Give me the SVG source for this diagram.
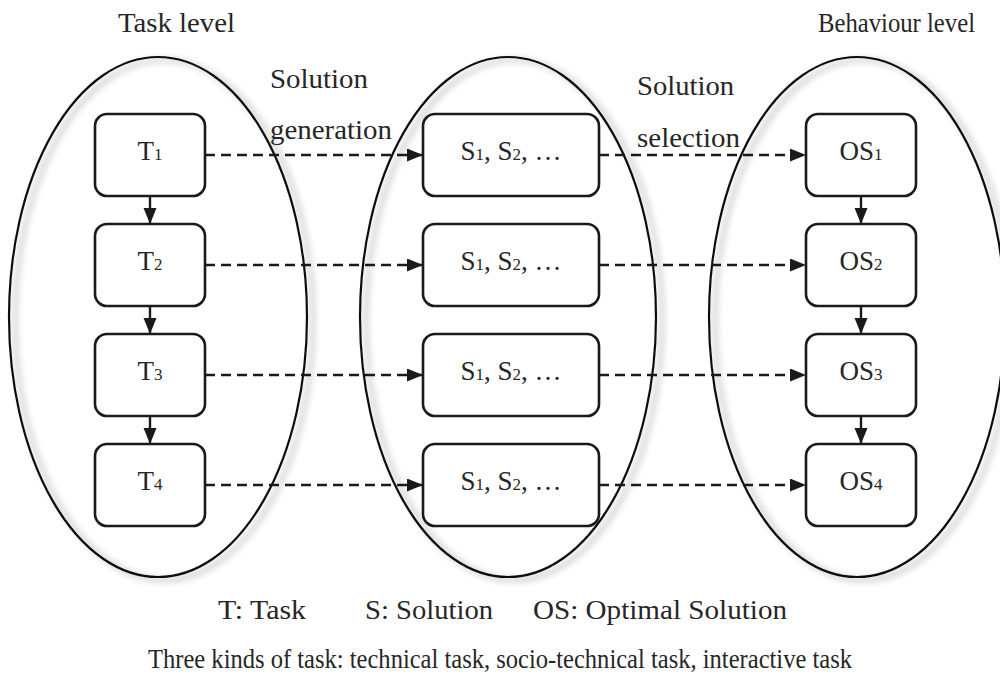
<svg xmlns="http://www.w3.org/2000/svg" width="1000" height="677" viewBox="0 0 1000 677" font-family="'Liberation Serif', 'Times New Roman', serif">
<style>
text{font-family:"Liberation Serif","Times New Roman","DejaVu Serif","Noto Serif",serif;fill:#262626}
.lbl{font-size:28px}
.bt{font-size:27px;text-anchor:middle}
.sub{font-size:17px}
.ell{fill:none;stroke:#111;stroke-width:2.2}
.box{fill:#fff;stroke:#1a1a1a;stroke-width:2.6}
.dash{fill:none;stroke:#1a1a1a;stroke-width:2.6;stroke-dasharray:10 6}
.solid{fill:none;stroke:#1a1a1a;stroke-width:2.4}
</style>
<defs>
<filter id="sh" x="-10%" y="-10%" width="130%" height="130%">
<feGaussianBlur in="SourceAlpha" stdDeviation="3.5"/>
<feOffset dx="6" dy="3"/>
<feComponentTransfer><feFuncA type="linear" slope="0.4"/></feComponentTransfer>
<feMerge><feMergeNode/><feMergeNode in="SourceGraphic"/></feMerge>
</filter>
<marker id="ah" markerUnits="userSpaceOnUse" markerWidth="17" markerHeight="14" refX="16" refY="6.5" orient="auto">
<path d="M0,0 L16,6.5 L0,13 z" fill="#1a1a1a"/>
</marker>
</defs>
<g id="levels">
<ellipse id="task-level" class="ell" filter="url(#sh)" cx="158" cy="317" rx="149" ry="260"/>
<ellipse id="solution-level" class="ell" filter="url(#sh)" cx="508" cy="317" rx="148" ry="260"/>
<ellipse id="behaviour-level" class="ell" filter="url(#sh)" cx="857" cy="317" rx="148" ry="260"/>
</g>
<g id="titles">
<text class="lbl" x="118" y="32" textLength="117" lengthAdjust="spacingAndGlyphs">Task level</text>
<text class="lbl" x="818" y="32" textLength="157" lengthAdjust="spacingAndGlyphs">Behaviour level</text>
<text class="lbl" x="270" y="88" textLength="98" lengthAdjust="spacingAndGlyphs">Solution</text>
<text class="lbl" x="270" y="139" textLength="122" lengthAdjust="spacingAndGlyphs">generation</text>
<text class="lbl" x="637" y="95" textLength="97" lengthAdjust="spacingAndGlyphs">Solution</text>
<text class="lbl" x="637" y="147" textLength="103" lengthAdjust="spacingAndGlyphs">selection</text>
</g>
<g id="connectors">
<line class="solid" x1="150" y1="196" x2="150" y2="224" marker-end="url(#ah)"/>
<line class="solid" x1="150" y1="306" x2="150" y2="334" marker-end="url(#ah)"/>
<line class="solid" x1="150" y1="416" x2="150" y2="444" marker-end="url(#ah)"/>
<line class="solid" x1="861" y1="196" x2="861" y2="224" marker-end="url(#ah)"/>
<line class="solid" x1="861" y1="306" x2="861" y2="334" marker-end="url(#ah)"/>
<line class="solid" x1="861" y1="416" x2="861" y2="444" marker-end="url(#ah)"/>
<line class="dash" x1="205" y1="155" x2="423" y2="155" marker-end="url(#ah)"/>
<line class="dash" x1="205" y1="265" x2="423" y2="265" marker-end="url(#ah)"/>
<line class="dash" x1="205" y1="375" x2="423" y2="375" marker-end="url(#ah)"/>
<line class="dash" x1="205" y1="485" x2="423" y2="485" marker-end="url(#ah)"/>
<line class="dash" x1="599" y1="155" x2="806" y2="155" marker-end="url(#ah)"/>
<line class="dash" x1="599" y1="265" x2="806" y2="265" marker-end="url(#ah)"/>
<line class="dash" x1="599" y1="375" x2="806" y2="375" marker-end="url(#ah)"/>
<line class="dash" x1="599" y1="485" x2="806" y2="485" marker-end="url(#ah)"/>
</g>
<g id="T1"><rect class="box" x="95" y="114" width="110" height="82" rx="12"/><text class="bt" x="150" y="160">T<tspan class="sub">1</tspan></text></g>
<g id="T2"><rect class="box" x="95" y="224" width="110" height="82" rx="12"/><text class="bt" x="150" y="270">T<tspan class="sub">2</tspan></text></g>
<g id="T3"><rect class="box" x="95" y="334" width="110" height="82" rx="12"/><text class="bt" x="150" y="380">T<tspan class="sub">3</tspan></text></g>
<g id="T4"><rect class="box" x="95" y="444" width="110" height="82" rx="12"/><text class="bt" x="150" y="490">T<tspan class="sub">4</tspan></text></g>
<g id="S1"><rect class="box" x="423" y="114" width="176" height="82" rx="12"/><text class="bt" x="511" y="160">S<tspan class="sub">1</tspan>, S<tspan class="sub">2</tspan>, …</text></g>
<g id="S2"><rect class="box" x="423" y="224" width="176" height="82" rx="12"/><text class="bt" x="511" y="270">S<tspan class="sub">1</tspan>, S<tspan class="sub">2</tspan>, …</text></g>
<g id="S3"><rect class="box" x="423" y="334" width="176" height="82" rx="12"/><text class="bt" x="511" y="380">S<tspan class="sub">1</tspan>, S<tspan class="sub">2</tspan>, …</text></g>
<g id="S4"><rect class="box" x="423" y="444" width="176" height="82" rx="12"/><text class="bt" x="511" y="490">S<tspan class="sub">1</tspan>, S<tspan class="sub">2</tspan>, …</text></g>
<g id="OS1"><rect class="box" x="806" y="114" width="110" height="82" rx="12"/><text class="bt" x="861" y="160">OS<tspan class="sub">1</tspan></text></g>
<g id="OS2"><rect class="box" x="806" y="224" width="110" height="82" rx="12"/><text class="bt" x="861" y="270">OS<tspan class="sub">2</tspan></text></g>
<g id="OS3"><rect class="box" x="806" y="334" width="110" height="82" rx="12"/><text class="bt" x="861" y="380">OS<tspan class="sub">3</tspan></text></g>
<g id="OS4"><rect class="box" x="806" y="444" width="110" height="82" rx="12"/><text class="bt" x="861" y="490">OS<tspan class="sub">4</tspan></text></g>
<g id="legend">
<text class="lbl" x="218" y="619" textLength="88" lengthAdjust="spacingAndGlyphs">T: Task</text>
<text class="lbl" x="365" y="619" textLength="128" lengthAdjust="spacingAndGlyphs">S: Solution</text>
<text class="lbl" x="533" y="619" textLength="254" lengthAdjust="spacingAndGlyphs">OS: Optimal Solution</text>
<text class="lbl" x="148" y="668" textLength="704" lengthAdjust="spacingAndGlyphs">Three kinds of task: technical task, socio-technical task, interactive task</text>
</g>
</svg>
